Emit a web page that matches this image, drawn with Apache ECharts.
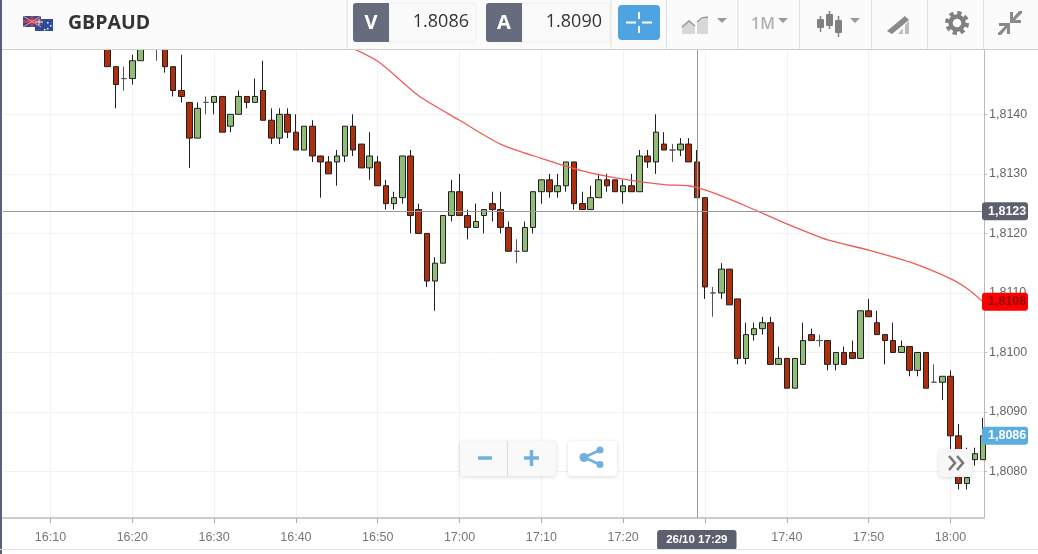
<!DOCTYPE html>
<html><head><meta charset="utf-8">
<style>html,body{margin:0;padding:0;background:#fff;overflow:hidden}#c{width:1038px;height:554px}</style>
<script src="https://cdn.jsdelivr.net/npm/echarts@6/dist/echarts.min.js"></script>
</head><body><div id="c"></div>
<script>
const symbol = 'GBPAUD';
const firstMinute = 977; // 16:17, minutes since midnight
const opens = [1.8152,1.8148,1.8146,1.8146,1.8149,1.8154,1.8152,1.8152,1.8148,1.8144,
1.8142,1.8136,1.8142,1.8142,1.8143,1.8138,1.8140,1.8143,1.8142,1.8144,
1.8139,1.8136,1.8140,1.8137,1.8134,1.8138,1.8133,1.8132,1.8132,1.8133,
1.8138,1.8135,1.8131,1.8132,1.8128,1.8125,1.8126,1.8133,1.8124,1.8120,
1.8112,1.8115,1.8123,1.8127,1.8123,1.8121,1.8123,1.8125,1.8124,1.8121,
1.8117,1.8117,1.8121,1.8127,1.8129,1.8127,1.8128,1.8132,1.8125,1.8124,
1.8126,1.8129,1.8129,1.8127,1.8128,1.8127,1.8133,1.8132,1.8135,1.8134,
1.8134,1.8135,1.8132,1.8126,1.8110,1.8110,1.8114,1.8109,1.8099,1.8103,
1.8104,1.8105,1.8098,1.8099,1.8094,1.8098,1.8103,1.8102,1.8102,1.8098,
1.8100,1.8100,1.8099,1.8107,1.8105,1.8103,1.8102,1.8100,1.8101,1.8097,
1.8100,1.8095,1.8095,1.8096,1.8086,1.8078,1.8082,1.8082];
const closes = [1.8148,1.8145,1.8146,1.8149,1.8152,1.8153,1.8152,1.8148,1.8144,1.8143,
1.8136,1.8141,1.8142,1.8143,1.8137,1.8140,1.8143,1.8142,1.8143,1.8139,
1.8136,1.8140,1.8137,1.8134,1.8138,1.8133,1.8132,1.8130,1.8133,1.8138,
1.8134,1.8131,1.8133,1.8128,1.8125,1.8126,1.8133,1.8123,1.8120,1.8112,
1.8115,1.8123,1.8127,1.8123,1.8121,1.8122,1.8124,1.8124,1.8121,1.8117,
1.8117,1.8121,1.8127,1.8129,1.8127,1.8128,1.8132,1.8125,1.8124,1.8126,
1.8129,1.8128,1.8127,1.8128,1.8127,1.8133,1.8132,1.8137,1.8134,1.8134,
1.8135,1.8132,1.8126,1.8111,1.8110,1.8114,1.8108,1.8099,1.8103,1.8104,
1.8105,1.8098,1.8099,1.8094,1.8099,1.8102,1.8102,1.8102,1.8098,1.8100,
1.8098,1.8099,1.8107,1.8106,1.8103,1.8102,1.8100,1.8101,1.8097,1.8100,
1.8094,1.8095,1.8096,1.8086,1.8078,1.8079,1.8083,1.8086];
const lows = [1.8148,1.8141,1.8144,1.8145,1.8149,1.8152,1.8149,1.8147,1.8143,1.8142,
1.8131,1.8136,1.8140,1.8140,1.8137,1.8137,1.8140,1.8141,1.8142,1.8139,
1.8135,1.8135,1.8136,1.8134,1.8134,1.8132,1.8126,1.8130,1.8128,1.8132,
1.8133,1.8131,1.8129,1.8128,1.8124,1.8124,1.8125,1.8120,1.8120,1.8111,
1.8107,1.8115,1.8122,1.8123,1.8119,1.8121,1.8120,1.8122,1.8120,1.8117,
1.8115,1.8117,1.8120,1.8125,1.8126,1.8126,1.8127,1.8124,1.8124,1.8124,
1.8126,1.8127,1.8127,1.8125,1.8127,1.8127,1.8131,1.8130,1.8134,1.8132,
1.8133,1.8132,1.8126,1.8109,1.8106,1.8109,1.8108,1.8098,1.8098,1.8102,
1.8103,1.8098,1.8098,1.8094,1.8094,1.8098,1.8102,1.8101,1.8097,1.8097,
1.8098,1.8099,1.8099,1.8106,1.8103,1.8098,1.8100,1.8100,1.8096,1.8096,
1.8094,1.8095,1.8092,1.8082,1.8077,1.8077,1.8081,1.8082];
const highs = [1.8153,1.8148,1.8148,1.8150,1.8153,1.8155,1.8154,1.8153,1.8148,1.8150,
1.8142,1.8142,1.8143,1.8143,1.8143,1.8140,1.8144,1.8143,1.8146,1.8149,
1.8141,1.8141,1.8141,1.8140,1.8138,1.8139,1.8133,1.8133,1.8134,1.8138,
1.8140,1.8135,1.8137,1.8133,1.8129,1.8127,1.8133,1.8134,1.8125,1.8120,
1.8116,1.8123,1.8129,1.8130,1.8124,1.8125,1.8124,1.8127,1.8127,1.8122,
1.8119,1.8122,1.8127,1.8129,1.8130,1.8130,1.8132,1.8132,1.8127,1.8128,
1.8130,1.8130,1.8129,1.8129,1.8130,1.8134,1.8134,1.8140,1.8137,1.8135,
1.8136,1.8136,1.8134,1.8126,1.8111,1.8115,1.8114,1.8109,1.8105,1.8105,
1.8106,1.8106,1.8101,1.8099,1.8099,1.8105,1.8104,1.8103,1.8102,1.8100,
1.8101,1.8102,1.8107,1.8109,1.8107,1.8103,1.8105,1.8102,1.8101,1.8100,
1.8100,1.8098,1.8096,1.8097,1.8088,1.8084,1.8084,1.8089];
const maMinutes = [1005,1010,1015,1020,1025,1030,1035,1040,1045,1048,1049,1050,1052,1055,1060,1065,1070,1075,1080,1082,1084];
const maValues = [1.81523,1.81489,1.81431,1.81390,1.81350,1.81326,1.81305,1.81291,1.81282,1.81280,1.81277,1.81273,1.81263,1.81246,1.81216,1.81189,1.81172,1.81152,1.81124,1.81108,1.81085];
const priceTicks = [1.808,1.809,1.810,1.811,1.812,1.813,1.814];
const timeTicks = [970,980,990,1000,1010,1020,1030,1040,1050,1060,1070,1080];
const crossPrice = 1.81237, crossMinute = 1049, crossLabel = '26/10 17:29';
const bid = '1.8086', ask = '1.8090';
const lastPrice = 1.8086, maPrice = 1.81085;

const fmtP = v => (Math.floor(v*10000+1e-6)/10000).toFixed(4).replace('.', ',');
const fmtT = m => String(Math.floor(m/60)).padStart(2,'0')+':'+String(m%60).padStart(2,'0');
const candles = opens.map((o,i)=>[firstMinute+i,o,closes[i],lows[i],highs[i]]);
const ma = maMinutes.map((m,i)=>[m,maValues[i]]);
const FONT = '"Liberation Sans",Arial,sans-serif';
const OS = '"Open Sans",sans-serif';
const tagLabel = (bg,fg,pos) => ({show:true,position:pos||'end',distance:-2,formatter:p=>fmtP(p.value),
  backgroundColor:bg,color:fg,fontFamily:FONT,fontSize:12.5,fontWeight:'bold',
  padding:[3,3,3,6],borderRadius:3,width:37,height:12,lineHeight:12,align:'left',verticalAlign:'middle'});

const G=[];
const rect=(x,y,w,h,fill,extra)=>G.push(Object.assign({type:'rect',shape:{x,y,width:w,height:h,r:(extra&&extra.r)||0},style:Object.assign({fill},(extra&&extra.style)||{}),z:100,silent:true}));
const line=(x1,y1,x2,y2,stroke,lw)=>G.push({type:'line',shape:{x1,y1,x2,y2},style:{stroke,lineWidth:lw||1},z:101,silent:true});
const txt=(x,y,text,font,fill,align)=>G.push({type:'text',x,y,style:{text,font,fill,align:align||'left',verticalAlign:'middle'},z:102,silent:true});
const path=(d,fill,stroke,lw)=>{
  d.split('M').filter(s=>s.trim()).forEach(sub=>{
    const pts=sub.replace('Z','').trim().split('L').map(p=>p.trim().split(/\s+/).map(Number));
    if(stroke&&stroke!=='none') G.push({type:'polyline',shape:{points:pts},style:{fill:'none',stroke,lineWidth:lw||1},z:102,silent:true});
    else G.push({type:'polygon',shape:{points:pts},style:{fill},z:102,silent:true});
  });
};
const shadow={shadowBlur:4,shadowColor:'rgba(0,0,0,0.15)',shadowOffsetY:1};

// toolbar
rect(0,0,1038,49,'#fbfbfb');
rect(0,49,1038,1,'#cfcfcf');
rect(0,0,2,554,'#59607a');
// flags
rect(23,16,18,11,'#3b4a86');
line(23,21.5,41,21.5,'#d63a4a',2.5); line(32,16,32,27,'#d63a4a',2.5);
line(23,16,41,27,'#e8a0aa',1); line(41,16,23,27,'#e8a0aa',1);
rect(35,19,18,12,'#2e4a9a');
rect(35,19,8,6,'#5d4f86');
line(35,22,43,22,'#e9e2ea',1); line(39,19,39,25,'#e9e2ea',1);
[[47,22],[50,25],[47,28],[44,29]].forEach(p=>rect(p[0],p[1],1.5,1.5,'#fff'));
txt(68,23,symbol,'bold 19.5px '+OS,'#333');
// bid / ask
rect(388,3,88,39,'#fafafa',{r:3,style:{stroke:'#eeeeee'}});
rect(353,3,36,39,'#666b7d',{r:[3,0,0,3]});
txt(371,23,'V','bold 20px '+OS,'#fff','center');
txt(469,22,bid,'18px '+OS,'#333','right');
rect(522,3,88,39,'#fafafa',{r:3,style:{stroke:'#eeeeee'}});
rect(486,3,36,39,'#666b7d',{r:[3,0,0,3]});
txt(504,23,'A','bold 20px '+OS,'#fff','center');
txt(602,22,ask,'18px '+OS,'#333','right');
// separators
[347,611,666.5,738,799.5,871.5,927.5,983.5].forEach(x=>line(x,0,x,49,'#e0e0e0',1));
// crosshair button
rect(618,5,42,35,'#4fa3e0',{r:4});
[[626,22.5,636,22.5],[642,22.5,652,22.5],[639,12,639,19],[639,26,639,33]].forEach(a=>line(a[0],a[1],a[2],a[3],'#fff',2));
// chart-type icon
path('M682 26 L690 20 L695 26 L695 34 L682 34 Z','#d8d8d8');
path('M697 22 L697 34 L708 34 L708 17 Z','#d8d8d8');
path('M682 27 L689 21 L695 26 M697 22 L702 18 L708 17','none','#999',1.5);
path('M717 18 L727 18 L722 23 Z','#999');
txt(751,24,'1M','600 16px '+OS,'#b0b0b0');
path('M778 18 L788 18 L783 23 Z','#999');
// candles icon
[[817,16,32,19,28],[826,11,29,14,26],[835,16,37,20,33]].forEach((c,i)=>{
  line(c[0]+3.5,c[1],c[0]+3.5,c[2],'#808080',1.5); rect(c[0],c[3],7,c[4]-c[3],'#808080',{r:1});
});
path('M850 18 L860 18 L855 23 Z','#999');
// draw icon
path('M887 31 L905 16 L909 20 L892 34 Z','#8a8a8a');
path('M898 34 L903 28 L903 34 Z M905 34 L905 25 L909 21 L909 34 Z','#bdbdbd');
// gear
G.push({type:'circle',shape:{cx:957,cy:23,r:9.5},style:{fill:'none',stroke:'#808080',lineWidth:5,lineDash:[4,3.45]},z:102,silent:true});
G.push({type:'circle',shape:{cx:957,cy:23,r:6.5},style:{fill:'none',stroke:'#808080',lineWidth:4.5},z:102,silent:true});
// compress
path('M1022 11 L1022 13 L1015 20 L1021 20 L1021 23 L1010 23 L1010 12 L1013 12 L1013 18 L1019 11 Z','#8a8a8a');
path('M998 35 L998 33 L1005 26 L999 26 L999 23 L1010 23 L1010 34 L1007 34 L1007 28 L1001 35 Z','#8a8a8a');

// floating buttons
rect(460,441,96,35,'#f9f9f9',{r:4,style:shadow});
line(507.5,441,507.5,476,'#dddddd',1);
line(478,458,492,458,'#6fb0de',3.5);
line(524,458,539,458,'#6fb0de',3.5); line(531.5,450,531.5,466,'#6fb0de',3.5);
rect(568,441,49,35,'#ffffff',{r:4,style:shadow});
line(584,457.5,600,450,'#6fb0de',2.5); line(584,457.5,600,464.5,'#6fb0de',2.5);
[[584,457.5,4.5],[600,450,3.5],[600,464.5,3.5]].forEach(c=>G.push({type:'circle',shape:{cx:c[0],cy:c[1],r:c[2]},style:{fill:'#6fb0de'},z:102,silent:true}));
rect(939,449,33,28,'#f7f7f7',{r:4,style:shadow});
path('M949 456 L955 463 L949 470 M957 456 L963 463 L957 470','none','#777',2.5);
// bottom strip
rect(0,549,1038,1,'#e4e4e4');

const hidden={color:'rgba(0,0,0,0)',width:0,type:'solid'};
const option={
  animation:false,
  backgroundColor:'#fff',
  grid:{left:3,right:54,top:50,bottom:36,containLabel:false},
  xAxis:{type:'value',min:964.2,max:1084.1,
    axisLine:{show:true,lineStyle:{color:'#cccccc',width:2}},
    axisTick:{show:true,length:5,customValues:timeTicks,lineStyle:{color:'#aaa'}},
    axisLabel:{show:true,customValues:timeTicks,formatter:v=>fmtT(v),color:'#777',fontFamily:FONT,fontSize:12.5,margin:13},
    splitLine:{show:true,lineStyle:{color:'#f2f2f2',width:1}}},
  yAxis:{type:'value',position:'right',min:1.80722,max:1.81508,
    axisLine:{show:true,lineStyle:{color:'#bbbbbb',width:1}},
    axisTick:{show:true,length:3,customValues:priceTicks,lineStyle:{color:'#bbb'}},
    axisLabel:{show:true,customValues:priceTicks,formatter:v=>v.toFixed(4).replace('.',','),color:'#666',fontFamily:FONT,fontSize:12.5,margin:5},
    splitLine:{show:true,lineStyle:{color:'#f2f2f2',width:1}}},
  series:[
    {type:'candlestick',barWidth:6,data:candles,clip:true,silent:true,
     itemStyle:{color:'#91bd79',color0:'#ad2f0e',colorDoji:'#555',borderColorDoji:'#555',
       borderColor:'#1f1f1f',borderColor0:'#1f1f1f',borderWidth:1}},
    {type:'line',data:ma,showSymbol:false,clip:true,silent:true,smooth:0.25,lineStyle:{color:'#f15a55',width:1.3},
     markLine:{silent:true,symbol:'none',animation:false,precision:6,data:[
       {yAxis:crossPrice,lineStyle:{color:'#999',width:1,type:'solid'},label:tagLabel('#5b5f6e','#fff')},
       {yAxis:maPrice,lineStyle:hidden,label:tagLabel('#ff0000','#8a1010')},
       {yAxis:lastPrice,lineStyle:hidden,label:tagLabel('#5aaedf','#fff')},
       {xAxis:crossMinute,lineStyle:{color:'#999',width:1,type:'solid'},
        label:{show:true,position:'start',distance:12,formatter:crossLabel,backgroundColor:'#5b5f6e',color:'#fff',
          fontFamily:FONT,fontSize:11.5,fontWeight:'bold',padding:[4,9,4,9],borderRadius:3}}
     ]}}
  ],
  graphic:{elements:G}
};
echarts.init(document.getElementById('c'),null,{renderer:'canvas'}).setOption(option);
</script></body></html>
